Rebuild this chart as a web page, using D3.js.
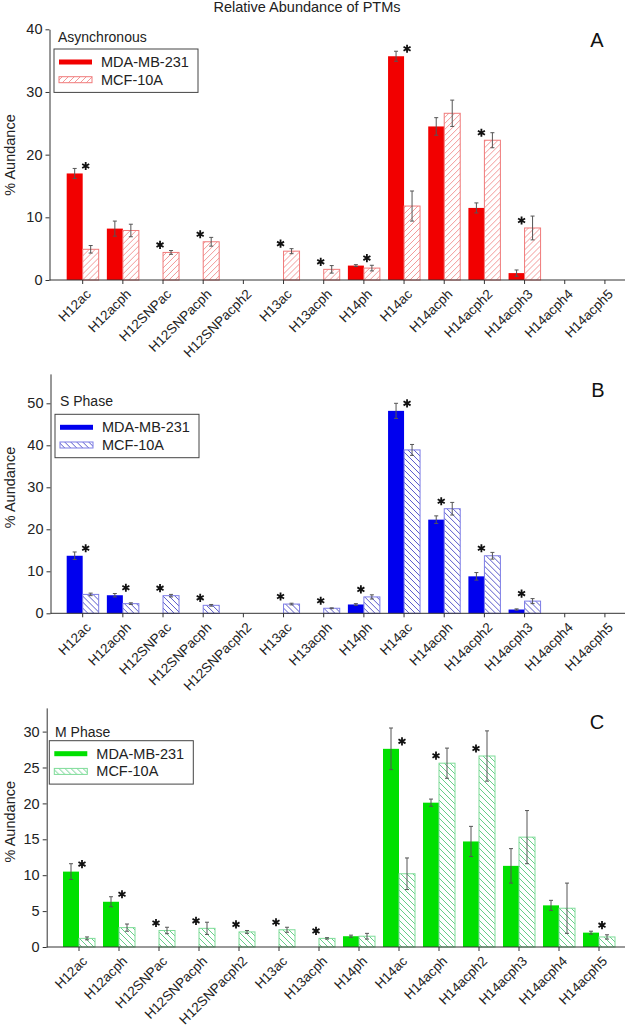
<!DOCTYPE html>
<html>
<head>
<meta charset="utf-8">
<script src="https://d3js.org/d3.v7.min.js"></script>
<style>
  body { margin: 0; background: #fff; }
  svg { display: block; font-family: "Liberation Sans", Arial, sans-serif; }
</style>
</head>
<body>
<script>
// categories on the x axis (same for all three panels)
var categories = ["H12ac","H12acph","H12SNPac","H12SNPacph","H12SNPacph2","H13ac","H13acph",
                  "H14ph","H14ac","H14acph","H14acph2","H14acph3","H14acph4","H14acph5"];
var seriesNames = ["MDA-MB-231", "MCF-10A"];

// A - asynchronous
var mdaAsync    = [17.0, 8.2, 0, 0, 0, 0, 0, 2.3, 35.7, 24.5, 11.5, 1.1, 0, 0];
var mdaAsyncErr = [0.8, 1.2, 0, 0, 0, 0, 0, 0.15, 0.8, 1.4, 0.8, 0.5, 0, 0];
var mcfAsync    = [4.9, 7.9, 4.4, 6.1, 0, 4.6, 1.7, 1.9, 11.8, 26.6, 22.3, 8.3, 0, 0];
var mcfAsyncErr = [0.6, 1.0, 0.3, 0.7, 0, 0.4, 0.6, 0.45, 2.4, 2.1, 1.2, 1.9, 0, 0];
var starsAsync  = [1, 0, 1, 1, 0, 1, 1, 1, 1, 0, 1, 1, 0, 0];

// B - S phase
var mdaS    = [13.7, 4.3, 0, 0, 0, 0, 0, 2.1, 48.2, 22.3, 8.8, 0.9, 0, 0];
var mdaSErr = [0.9, 0.4, 0, 0, 0, 0, 0, 0.2, 1.8, 0.9, 0.9, 0.15, 0, 0];
var mcfS    = [4.5, 2.3, 4.2, 1.9, 0, 2.2, 1.2, 3.9, 38.9, 24.9, 13.7, 2.9, 0, 0];
var mcfSErr = [0.3, 0.2, 0.3, 0.2, 0, 0.2, 0.1, 0.5, 1.3, 1.5, 0.8, 0.6, 0, 0];
var starsS  = [1, 1, 1, 1, 0, 1, 1, 1, 1, 1, 1, 1, 0, 0];

// C - M phase
var mdaM    = [10.5, 6.3, 0, 0, 0, 0, 0, 1.5, 27.6, 20.1, 14.7, 11.3, 5.8, 2.0];
var mdaMErr = [1.1, 0.7, 0, 0, 0, 0, 0, 0.15, 2.9, 0.5, 2.1, 2.4, 0.7, 0.2];
var mcfM    = [1.2, 2.7, 2.3, 2.6, 2.1, 2.4, 1.2, 1.5, 10.2, 25.6, 26.6, 15.3, 5.4, 1.4];
var mcfMErr = [0.2, 0.5, 0.45, 0.85, 0.2, 0.35, 0.1, 0.4, 2.2, 2.1, 3.5, 3.7, 3.5, 0.3];
var starsM  = [1, 1, 1, 1, 1, 1, 1, 0, 1, 1, 1, 0, 0, 1];

var ticksAsync = [0, 10, 20, 30, 40];
var ticksS = [0, 10, 20, 30, 40, 50];
var ticksM = [0, 5, 10, 15, 20, 25, 30];

var W = 625, H = 1026;
var svg = d3.select("body").append("svg").attr("width", W).attr("height", H);

svg.append("text").attr("x", 307).attr("y", 12).attr("text-anchor", "middle")
  .attr("font-size", "14.5px").attr("fill", "#222").text("Relative Abundance of PTMs");

var defs = svg.append("defs");
function hatch(id, color, dir) {
  var p = defs.append("pattern").attr("id", id).attr("patternUnits", "userSpaceOnUse")
    .attr("width", 6).attr("height", 6);
  var d = dir == "/" ? "M0,6 L6,0 M-1,1 L1,-1 M5,7 L7,5" : "M0,0 L6,6 M-1,5 L1,7 M5,-1 L7,1";
  p.append("path").attr("d", d).attr("stroke", color).attr("stroke-width", 0.9);
}

var panels = [
  {name: "Asynchronous", letter: "A", mda: mdaAsync, mdaErr: mdaAsyncErr, mcf: mcfAsync, mcfErr: mcfAsyncErr,
   stars: starsAsync, ticks: ticksAsync, yMax: 40, y0: 280, yTop: 29.3, axisX: 49.5, xr: [62.6, 625],
   solid: "#f20000", hatchCol: "#f08c8c", outline: "#f07a7a", dir: "/", pid: "hA",
   leg: [54, 49], legTitle: [58, 37.3], letterPos: [597, 40], ylab: 155},
  {name: "S Phase", letter: "B", mda: mdaS, mdaErr: mdaSErr, mcf: mcfS, mcfErr: mcfSErr,
   stars: starsS, ticks: ticksS, yMax: 57, y0: 613.3, yTop: 373.9, axisX: 50.5, xr: [62.6, 625],
   solid: "#0000ee", hatchCol: "#4646c4", outline: "#7c7ce6", dir: "\\", pid: "hB",
   leg: [55, 414.3], legTitle: [60, 400.7], letterPos: [598, 390], ylab: 487.5},
  {name: "M Phase", letter: "C", mda: mdaM, mdaErr: mdaMErr, mcf: mcfM, mcfErr: mcfMErr,
   stars: starsM, ticks: ticksM, yMax: 33.3, y0: 947, yTop: 707.9, axisX: 46.7, xr: [59, 619],
   solid: "#00e000", hatchCol: "#54c87a", outline: "#7edc98", dir: "\\", pid: "hC",
   leg: [49.3, 740.7], legTitle: [55, 732.3], letterPos: [597, 721.7], ylab: 821.7}
];

panels.forEach(function(P) {
  hatch(P.pid, P.hatchCol, P.dir);
  var g = svg.append("g");
  var y = d3.scaleLinear().domain([0, P.yMax]).range([P.y0, P.yTop]);
  var x0 = d3.scaleBand().domain(categories).range(P.xr).padding(0);
  var bw = x0.bandwidth();
  var x1 = d3.scaleBand().domain(seriesNames).range([0, bw]).paddingInner(0).paddingOuter((bw / 16 - 2) / 2);

  var rows = categories.map(function(c, i) {
    return {cat: c, i: i, vals: [
      {s: seriesNames[0], v: P.mda[i], e: P.mdaErr[i]},
      {s: seriesNames[1], v: P.mcf[i], e: P.mcfErr[i]}]};
  });

  // bars
  var cg = g.selectAll(".cat").data(rows).enter().append("g")
    .attr("transform", function(d) { return "translate(" + x0(d.cat) + ",0)"; });
  cg.selectAll("rect").data(function(d) { return d.vals.filter(function(v) { return v.v > 0; }); })
    .enter().append("rect")
    .attr("x", function(d) { return x1(d.s); })
    .attr("width", x1.bandwidth())
    .attr("y", function(d) { return y(d.v); })
    .attr("height", function(d) { return y(0) - y(d.v); })
    .attr("fill", function(d) { return d.s == seriesNames[0] ? P.solid : "url(#" + P.pid + ")"; })
    .attr("stroke", function(d) { return d.s == seriesNames[0] ? "none" : P.outline; })
    .attr("stroke-width", 1);

  // error bars
  var eb = cg.selectAll(".err").data(function(d) { return d.vals.filter(function(v) { return v.v > 0; }); })
    .enter().append("g").attr("stroke", "#555").attr("stroke-width", 1);
  eb.append("line")
    .attr("x1", function(d) { return x1(d.s) + x1.bandwidth() / 2; })
    .attr("x2", function(d) { return x1(d.s) + x1.bandwidth() / 2; })
    .attr("y1", function(d) { return y(d.v - d.e); })
    .attr("y2", function(d) { return y(d.v + d.e); });
  [-1, 1].forEach(function(k) {
    eb.append("line")
      .attr("x1", function(d) { return x1(d.s) + x1.bandwidth() / 2 - 2; })
      .attr("x2", function(d) { return x1(d.s) + x1.bandwidth() / 2 + 2; })
      .attr("y1", function(d) { return y(d.v + k * d.e); })
      .attr("y2", function(d) { return y(d.v + k * d.e); });
  });

  // significance stars
  var star = d3.symbol().type(d3.symbolAsterisk).size(46);
  g.selectAll(".star").data(rows.filter(function(d) { return P.stars[d.i]; })).enter()
    .append("path").attr("d", star)
    .attr("stroke", "#111").attr("stroke-width", 1.8).attr("fill", "none")
    .attr("transform", function(d) {
      var a = d.vals[0].v, b = d.vals[1].v, cx = x0(d.cat) + bw / 2;
      var sx = a >= b ? cx + 3 : cx - 3;
      var sy = y(Math.max(a, b)) - 7.5;
      return "translate(" + sx + "," + sy + ")";
    });

  // y axis
  var ya = g.append("g").attr("transform", "translate(" + P.axisX + ",0)")
    .call(d3.axisLeft(y).tickValues(P.ticks).tickSize(4).tickSizeOuter(0))
    .attr("font-family", null).attr("font-size", null);
  ya.select(".domain").attr("stroke", "#333");
  ya.selectAll(".tick line").attr("stroke", "#333");
  ya.selectAll(".tick text").attr("font-size", "14.5px").attr("fill", "#222").attr("x", -7);

  // x axis
  var xa = g.append("g").attr("transform", "translate(0," + P.y0 + ")")
    .call(d3.axisBottom(x0).tickSize(4).tickSizeOuter(0))
    .attr("font-family", null).attr("font-size", null);
  xa.select(".domain").remove();
  xa.append("line").attr("x1", P.axisX).attr("x2", W).attr("stroke", "#333");
  xa.selectAll(".tick line").attr("stroke", "#333");
  xa.selectAll(".tick text").attr("font-size", "13.5px").attr("fill", "#222")
    .attr("text-anchor", "end").attr("y", 0).attr("dy", null)
    .attr("transform", "translate(9,15) rotate(-45)");

  // y label
  g.append("text").attr("transform", "translate(15," + P.ylab + ") rotate(-90)")
    .attr("text-anchor", "middle").attr("font-size", "14.5px").attr("fill", "#222").text("% Aundance");

  // panel letter
  g.append("text").attr("x", P.letterPos[0]).attr("y", P.letterPos[1] + 7).attr("text-anchor", "middle")
    .attr("font-size", "20px").attr("fill", "#111").text(P.letter);

  // legend
  g.append("text").attr("x", P.legTitle[0]).attr("y", P.legTitle[1] + 5)
    .attr("font-size", "14px").attr("fill", "#222").text(P.name);
  var lg = g.append("g").attr("transform", "translate(" + P.leg[0] + "," + P.leg[1] + ")");
  lg.append("rect").attr("width", 144).attr("height", 43.4).attr("fill", "#fff")
    .attr("stroke", "#444").attr("stroke-width", 1);
  seriesNames.forEach(function(s, k) {
    var ry = 13 + k * 17.7;
    if (k == 0) {
      lg.append("rect").attr("x", 5).attr("y", ry - 2.5).attr("width", 33).attr("height", 5).attr("fill", P.solid);
    } else {
      lg.append("rect").attr("x", 5).attr("y", ry - 3).attr("width", 33).attr("height", 6)
        .attr("fill", "url(#" + P.pid + ")").attr("stroke", P.outline).attr("stroke-width", 1);
    }
    lg.append("text").attr("x", 47).attr("y", ry + 5).attr("font-size", "14.5px").attr("fill", "#222").text(s);
  });
});
</script>
</body>
</html>
